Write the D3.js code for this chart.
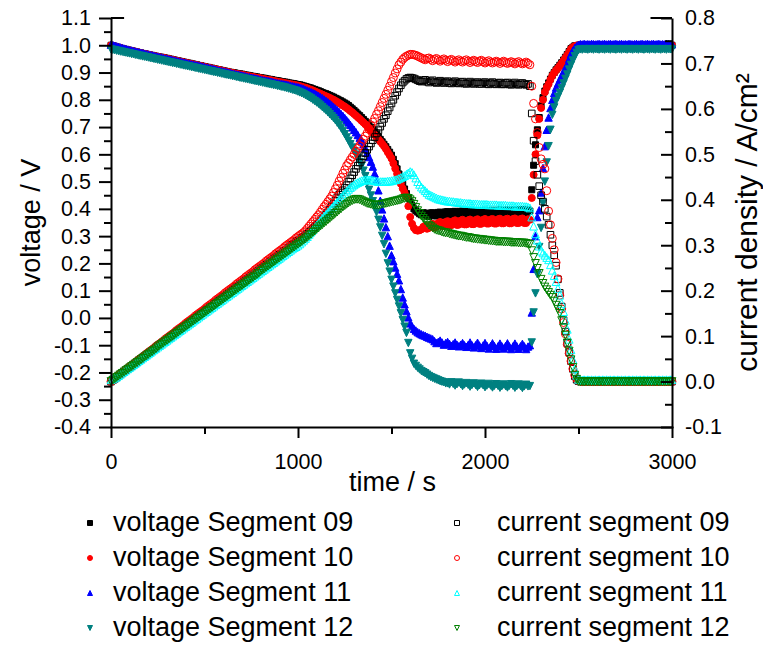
<!DOCTYPE html>
<html>
<head>
<meta charset="utf-8">
<script src="https://cdn.jsdelivr.net/npm/d3@7"></script>
<style>
  body { margin: 0; background: #fff; }
  svg { display: block; }
  text { font-family: Arial, "Liberation Sans", sans-serif; fill: #000; }
</style>
</head>
<body>
<svg id="chart" width="763" height="648"></svg>
<script>
// Sampling times (s), one reading every 10 s
const times = [
  0,10,20,30,40,50,60,70,80,90,
  100,110,120,130,140,150,160,170,180,190,
  200,210,220,230,240,250,260,270,280,290,
  300,310,320,330,340,350,360,370,380,390,
  400,410,420,430,440,450,460,470,480,490,
  500,510,520,530,540,550,560,570,580,590,
  600,610,620,630,640,650,660,670,680,690,
  700,710,720,730,740,750,760,770,780,790,
  800,810,820,830,840,850,860,870,880,890,
  900,910,920,930,940,950,960,970,980,990,
  1000,1010,1020,1030,1040,1050,1060,1070,1080,1090,
  1100,1110,1120,1130,1140,1150,1160,1170,1180,1190,
  1200,1210,1220,1230,1240,1250,1260,1270,1280,1290,
  1300,1310,1320,1330,1340,1350,1360,1370,1380,1390,
  1400,1410,1420,1430,1440,1450,1460,1470,1480,1490,
  1500,1510,1520,1530,1540,1550,1560,1570,1580,1590,
  1600,1610,1620,1630,1640,1650,1660,1670,1680,1690,
  1700,1710,1720,1730,1740,1750,1760,1770,1780,1790,
  1800,1810,1820,1830,1840,1850,1860,1870,1880,1890,
  1900,1910,1920,1930,1940,1950,1960,1970,1980,1990,
  2000,2010,2020,2030,2040,2050,2060,2070,2080,2090,
  2100,2110,2120,2130,2140,2150,2160,2170,2180,2190,
  2200,2210,2220,2230,2240,2250,2260,2270,2280,2290,
  2300,2310,2320,2330,2340,2350,2360,2370,2380,2390,
  2400,2410,2420,2430,2440,2450,2460,2470,2480,2490,
  2500,2510,2520,2530,2540,2550,2560,2570,2580,2590,
  2600,2610,2620,2630,2640,2650,2660,2670,2680,2690,
  2700,2710,2720,2730,2740,2750,2760,2770,2780,2790,
  2800,2810,2820,2830,2840,2850,2860,2870,2880,2890,
  2900,2910,2920,2930,2940,2950,2960,2970,2980,2990,
  3000
];

// Segment voltages (V)
const voltage09 = [
  1.000,0.998,0.996,0.994,0.992,0.990,0.988,0.986,0.985,0.983,
  0.981,0.980,0.978,0.976,0.975,0.973,0.972,0.970,0.969,0.967,
  0.966,0.964,0.963,0.961,0.960,0.958,0.957,0.956,0.955,0.953,
  0.952,0.950,0.949,0.947,0.946,0.944,0.943,0.941,0.940,0.938,
  0.937,0.935,0.934,0.932,0.931,0.929,0.928,0.926,0.925,0.923,
  0.922,0.920,0.919,0.917,0.916,0.914,0.913,0.911,0.910,0.908,
  0.907,0.905,0.904,0.902,0.901,0.900,0.899,0.897,0.896,0.895,
  0.894,0.892,0.891,0.890,0.889,0.887,0.886,0.885,0.884,0.882,
  0.881,0.880,0.879,0.877,0.876,0.875,0.874,0.872,0.871,0.870,
  0.869,0.867,0.866,0.865,0.864,0.862,0.861,0.860,0.859,0.857,
  0.856,0.855,0.853,0.851,0.849,0.847,0.845,0.843,0.840,0.838,
  0.835,0.833,0.830,0.827,0.824,0.822,0.819,0.816,0.813,0.810,
  0.806,0.803,0.799,0.796,0.792,0.788,0.784,0.779,0.773,0.767,
  0.761,0.755,0.748,0.742,0.735,0.728,0.721,0.714,0.706,0.698,
  0.690,0.682,0.673,0.664,0.655,0.646,0.637,0.628,0.618,0.608,
  0.597,0.582,0.566,0.547,0.528,0.509,0.490,0.473,0.456,0.440,
  0.425,0.412,0.400,0.393,0.388,0.382,0.378,0.386,0.384,0.374,
  0.372,0.385,0.386,0.375,0.374,0.387,0.388,0.377,0.376,0.389,
  0.390,0.378,0.377,0.390,0.391,0.379,0.378,0.391,0.392,0.380,
  0.379,0.392,0.393,0.381,0.380,0.393,0.394,0.382,0.381,0.394,
  0.395,0.383,0.382,0.394,0.395,0.383,0.382,0.395,0.396,0.384,
  0.383,0.395,0.396,0.384,0.383,0.396,0.397,0.385,0.384,0.396,
  0.397,0.385,0.384,0.396,0.392,0.470,0.560,0.635,0.690,0.735,
  0.778,0.808,0.832,0.848,0.862,0.876,0.890,0.900,0.910,0.918,
  0.927,0.936,0.946,0.956,0.966,0.977,0.988,0.993,0.998,0.999,
  1.000,1.001,1.000,0.999,1.000,1.001,1.000,0.999,1.000,1.001,
  1.000,0.999,1.000,1.001,1.000,0.999,1.000,1.001,1.000,0.999,
  1.000,1.001,1.000,0.999,1.000,1.001,1.000,0.999,1.000,1.001,
  1.000,0.999,1.000,1.001,1.000,0.999,1.000,1.001,1.000,0.999,
  1.000,1.001,1.000,0.999,1.000,1.001,1.000,0.999,1.000,1.001,
  1.000
];
const voltage10 = [
  1.000,0.998,0.996,0.994,0.992,0.990,0.988,0.986,0.984,0.982,
  0.981,0.979,0.978,0.976,0.975,0.973,0.971,0.970,0.968,0.967,
  0.965,0.964,0.962,0.961,0.959,0.958,0.956,0.955,0.954,0.952,
  0.951,0.949,0.948,0.946,0.945,0.943,0.942,0.940,0.939,0.937,
  0.936,0.934,0.933,0.931,0.930,0.928,0.927,0.925,0.924,0.922,
  0.921,0.919,0.918,0.916,0.915,0.913,0.912,0.910,0.909,0.907,
  0.906,0.904,0.903,0.901,0.900,0.898,0.897,0.895,0.894,0.893,
  0.892,0.890,0.889,0.887,0.886,0.885,0.884,0.882,0.881,0.880,
  0.879,0.877,0.876,0.874,0.873,0.872,0.871,0.869,0.868,0.866,
  0.865,0.864,0.863,0.861,0.860,0.859,0.857,0.856,0.855,0.853,
  0.852,0.850,0.848,0.846,0.844,0.842,0.839,0.837,0.834,0.831,
  0.828,0.825,0.822,0.819,0.816,0.813,0.810,0.807,0.803,0.800,
  0.796,0.792,0.788,0.784,0.779,0.775,0.770,0.765,0.759,0.754,
  0.748,0.742,0.736,0.730,0.723,0.717,0.710,0.703,0.695,0.687,
  0.679,0.671,0.663,0.655,0.647,0.639,0.630,0.620,0.608,0.597,
  0.585,0.567,0.548,0.529,0.510,0.492,0.475,0.460,0.445,0.410,
  0.370,0.345,0.330,0.322,0.320,0.322,0.325,0.334,0.338,0.327,
  0.330,0.342,0.345,0.331,0.334,0.348,0.352,0.336,0.338,0.352,
  0.355,0.339,0.340,0.355,0.358,0.341,0.342,0.357,0.360,0.343,
  0.343,0.358,0.361,0.344,0.344,0.359,0.362,0.345,0.345,0.360,
  0.363,0.346,0.346,0.361,0.363,0.346,0.346,0.362,0.364,0.347,
  0.347,0.362,0.364,0.347,0.347,0.363,0.365,0.348,0.348,0.363,
  0.365,0.348,0.348,0.362,0.360,0.440,0.525,0.600,0.670,0.730,
  0.770,0.800,0.828,0.845,0.858,0.874,0.889,0.899,0.908,0.916,
  0.925,0.934,0.944,0.954,0.964,0.975,0.987,0.993,0.997,0.999,
  1.000,0.999,1.000,1.001,1.000,0.999,1.000,1.001,1.000,0.999,
  1.000,1.001,1.000,0.999,1.000,1.001,1.000,0.999,1.000,1.001,
  1.000,0.999,1.000,1.001,1.000,0.999,1.000,1.001,1.000,0.999,
  1.000,1.001,1.000,0.999,1.000,1.001,1.000,0.999,1.000,1.001,
  1.000,0.999,1.000,1.001,1.000,0.999,1.000,1.001,1.000,0.999,
  1.000
];
const voltage11 = [
  1.002,1.000,0.998,0.996,0.994,0.992,0.990,0.988,0.986,0.984,
  0.982,0.981,0.979,0.977,0.976,0.974,0.972,0.971,0.969,0.967,
  0.966,0.964,0.963,0.961,0.959,0.958,0.956,0.955,0.953,0.951,
  0.950,0.948,0.947,0.945,0.944,0.942,0.941,0.939,0.938,0.936,
  0.935,0.933,0.932,0.930,0.929,0.927,0.926,0.924,0.923,0.921,
  0.920,0.918,0.917,0.915,0.913,0.912,0.910,0.908,0.907,0.905,
  0.904,0.902,0.901,0.899,0.898,0.896,0.895,0.893,0.892,0.890,
  0.889,0.887,0.886,0.884,0.883,0.881,0.880,0.878,0.877,0.875,
  0.874,0.872,0.871,0.870,0.869,0.867,0.866,0.864,0.863,0.861,
  0.860,0.858,0.857,0.856,0.855,0.853,0.852,0.850,0.849,0.847,
  0.846,0.844,0.842,0.840,0.837,0.834,0.831,0.828,0.825,0.822,
  0.818,0.814,0.810,0.806,0.801,0.796,0.791,0.786,0.780,0.774,
  0.768,0.762,0.755,0.748,0.741,0.733,0.725,0.717,0.708,0.699,
  0.690,0.681,0.671,0.661,0.651,0.637,0.622,0.606,0.590,0.573,
  0.555,0.530,0.505,0.468,0.430,0.398,0.365,0.333,0.300,0.265,
  0.230,0.208,0.185,0.162,0.138,0.106,0.075,0.050,0.025,0.002,
  -0.020,-0.030,-0.040,-0.046,-0.052,-0.056,-0.060,-0.063,-0.065,-0.069,
  -0.072,-0.075,-0.078,-0.085,-0.092,-0.088,-0.083,-0.090,-0.098,-0.092,
  -0.088,-0.095,-0.102,-0.096,-0.090,-0.098,-0.104,-0.098,-0.092,-0.100,
  -0.106,-0.099,-0.090,-0.100,-0.108,-0.100,-0.091,-0.101,-0.110,-0.101,
  -0.092,-0.102,-0.112,-0.103,-0.093,-0.103,-0.113,-0.104,-0.094,-0.104,
  -0.112,-0.103,-0.093,-0.104,-0.114,-0.104,-0.094,-0.104,-0.113,-0.104,
  -0.095,-0.104,-0.114,-0.105,-0.100,0.020,0.180,0.300,0.370,0.395,
  0.460,0.550,0.630,0.690,0.735,0.770,0.800,0.825,0.845,0.860,
  0.875,0.889,0.903,0.916,0.930,0.950,0.968,0.980,0.990,0.997,
  1.002,1.004,1.003,1.005,1.003,1.004,1.003,1.005,1.004,1.003,
  1.004,1.005,1.003,1.004,1.005,1.003,1.004,1.005,1.003,1.004,
  1.005,1.003,1.004,1.005,1.003,1.004,1.003,1.005,1.004,1.003,
  1.004,1.005,1.003,1.004,1.005,1.003,1.004,1.005,1.003,1.004,
  1.005,1.003,1.004,1.005,1.003,1.004,1.003,1.005,1.004,1.003,
  1.004
];
const voltage12 = [
  0.985,0.983,0.982,0.980,0.979,0.977,0.976,0.974,0.973,0.971,
  0.970,0.968,0.967,0.965,0.964,0.962,0.961,0.959,0.958,0.956,
  0.955,0.953,0.952,0.950,0.949,0.947,0.946,0.944,0.943,0.941,
  0.940,0.938,0.937,0.935,0.934,0.932,0.931,0.929,0.928,0.926,
  0.925,0.923,0.922,0.920,0.919,0.917,0.916,0.914,0.913,0.911,
  0.910,0.908,0.907,0.905,0.904,0.902,0.901,0.899,0.898,0.896,
  0.895,0.893,0.892,0.890,0.889,0.887,0.886,0.884,0.883,0.881,
  0.880,0.878,0.877,0.875,0.874,0.872,0.871,0.869,0.868,0.866,
  0.865,0.863,0.862,0.860,0.859,0.857,0.856,0.854,0.853,0.851,
  0.850,0.848,0.847,0.845,0.843,0.841,0.839,0.837,0.835,0.833,
  0.830,0.827,0.824,0.821,0.817,0.813,0.809,0.805,0.800,0.795,
  0.790,0.785,0.779,0.773,0.767,0.761,0.754,0.747,0.740,0.733,
  0.725,0.716,0.707,0.697,0.686,0.674,0.662,0.650,0.637,0.625,
  0.612,0.599,0.586,0.572,0.558,0.540,0.520,0.495,0.470,0.449,
  0.428,0.408,0.388,0.360,0.332,0.301,0.270,0.235,0.200,0.170,
  0.140,0.115,0.090,0.066,0.042,0.017,-0.008,-0.032,-0.055,-0.092,
  -0.130,-0.150,-0.168,-0.176,-0.183,-0.189,-0.195,-0.199,-0.203,-0.208,
  -0.213,-0.217,-0.220,-0.223,-0.226,-0.229,-0.232,-0.234,-0.236,-0.240,
  -0.240,-0.244,-0.236,-0.242,-0.248,-0.243,-0.237,-0.243,-0.250,-0.244,
  -0.239,-0.245,-0.252,-0.246,-0.240,-0.246,-0.253,-0.247,-0.241,-0.247,
  -0.254,-0.248,-0.242,-0.248,-0.255,-0.249,-0.243,-0.249,-0.256,-0.250,
  -0.244,-0.250,-0.255,-0.249,-0.243,-0.249,-0.256,-0.250,-0.244,-0.250,
  -0.257,-0.251,-0.245,-0.251,-0.250,-0.090,0.020,0.090,0.160,0.260,
  0.330,0.420,0.500,0.570,0.630,0.690,0.745,0.772,0.795,0.811,
  0.826,0.843,0.860,0.877,0.893,0.911,0.928,0.944,0.960,0.972,
  0.982,0.985,0.984,0.986,0.985,0.984,0.986,0.985,0.984,0.986,
  0.985,0.984,0.986,0.985,0.984,0.986,0.985,0.984,0.986,0.985,
  0.984,0.986,0.985,0.984,0.986,0.985,0.984,0.986,0.985,0.984,
  0.986,0.985,0.984,0.986,0.985,0.984,0.986,0.985,0.984,0.986,
  0.985,0.984,0.986,0.985,0.984,0.986,0.985,0.984,0.986,0.985,
  0.985
];

// Segment current densities (A/cm²)
const current09 = [
  0.000,0.003,0.006,0.009,0.012,0.016,0.019,0.022,0.025,0.028,
  0.031,0.034,0.037,0.040,0.043,0.047,0.050,0.053,0.056,0.059,
  0.062,0.065,0.068,0.071,0.074,0.078,0.081,0.084,0.087,0.090,
  0.093,0.096,0.099,0.102,0.105,0.109,0.112,0.115,0.118,0.121,
  0.124,0.127,0.130,0.133,0.136,0.140,0.143,0.146,0.149,0.152,
  0.155,0.158,0.161,0.164,0.167,0.171,0.174,0.177,0.180,0.183,
  0.186,0.189,0.192,0.195,0.198,0.202,0.205,0.208,0.211,0.214,
  0.217,0.220,0.223,0.226,0.229,0.233,0.236,0.239,0.242,0.245,
  0.248,0.251,0.254,0.257,0.260,0.264,0.267,0.270,0.273,0.276,
  0.279,0.282,0.285,0.288,0.291,0.295,0.298,0.301,0.304,0.307,
  0.310,0.313,0.316,0.319,0.322,0.325,0.329,0.332,0.336,0.340,
  0.344,0.348,0.353,0.357,0.362,0.367,0.372,0.378,0.385,0.391,
  0.398,0.405,0.411,0.416,0.421,0.426,0.432,0.440,0.447,0.454,
  0.461,0.468,0.475,0.482,0.489,0.496,0.503,0.510,0.517,0.524,
  0.531,0.538,0.546,0.553,0.561,0.569,0.578,0.586,0.595,0.603,
  0.612,0.620,0.629,0.637,0.645,0.652,0.658,0.662,0.666,0.668,
  0.669,0.668,0.667,0.665,0.663,0.661,0.660,0.663,0.664,0.660,
  0.658,0.661,0.663,0.659,0.657,0.660,0.662,0.658,0.657,0.660,
  0.661,0.657,0.656,0.659,0.661,0.657,0.656,0.659,0.660,0.656,
  0.655,0.658,0.660,0.656,0.655,0.658,0.659,0.655,0.655,0.658,
  0.659,0.655,0.654,0.657,0.659,0.655,0.654,0.657,0.658,0.654,
  0.654,0.657,0.658,0.654,0.653,0.656,0.658,0.654,0.653,0.656,
  0.657,0.654,0.653,0.655,0.650,0.590,0.530,0.485,0.455,0.430,
  0.410,0.396,0.380,0.363,0.345,0.323,0.300,0.278,0.255,0.225,
  0.195,0.165,0.135,0.110,0.085,0.065,0.045,0.028,0.012,0.004,
  0.001,0.000,0.001,0.000,0.001,0.000,0.001,0.000,0.001,0.000,
  0.001,0.000,0.001,0.000,0.001,0.000,0.001,0.000,0.001,0.000,
  0.001,0.000,0.001,0.000,0.001,0.000,0.001,0.000,0.001,0.000,
  0.001,0.000,0.001,0.000,0.001,0.000,0.001,0.000,0.001,0.000,
  0.001,0.000,0.001,0.000,0.001,0.000,0.001,0.000,0.001,0.000,
  0.000
];
const current10 = [
  0.000,0.003,0.006,0.010,0.013,0.016,0.019,0.022,0.026,0.029,
  0.032,0.035,0.038,0.041,0.045,0.048,0.051,0.054,0.057,0.061,
  0.064,0.067,0.070,0.073,0.077,0.080,0.083,0.086,0.089,0.093,
  0.096,0.099,0.102,0.105,0.108,0.112,0.115,0.118,0.121,0.124,
  0.128,0.131,0.134,0.137,0.140,0.144,0.147,0.150,0.153,0.156,
  0.159,0.163,0.166,0.169,0.172,0.175,0.179,0.182,0.185,0.188,
  0.191,0.195,0.198,0.201,0.204,0.207,0.210,0.214,0.217,0.220,
  0.223,0.226,0.230,0.233,0.236,0.239,0.242,0.246,0.249,0.252,
  0.255,0.258,0.261,0.265,0.268,0.271,0.274,0.277,0.281,0.284,
  0.287,0.290,0.293,0.297,0.300,0.303,0.306,0.309,0.312,0.316,
  0.319,0.322,0.325,0.328,0.332,0.337,0.342,0.347,0.352,0.357,
  0.362,0.367,0.373,0.379,0.385,0.390,0.396,0.402,0.408,0.416,
  0.424,0.432,0.441,0.449,0.458,0.466,0.475,0.481,0.488,0.494,
  0.500,0.507,0.513,0.519,0.526,0.533,0.540,0.547,0.555,0.563,
  0.571,0.579,0.588,0.596,0.605,0.614,0.623,0.632,0.641,0.650,
  0.660,0.669,0.679,0.688,0.697,0.703,0.709,0.713,0.716,0.718,
  0.720,0.720,0.719,0.718,0.716,0.714,0.712,0.710,0.708,0.711,
  0.712,0.709,0.706,0.709,0.711,0.708,0.705,0.708,0.710,0.707,
  0.704,0.707,0.709,0.706,0.703,0.706,0.708,0.705,0.703,0.706,
  0.708,0.705,0.702,0.705,0.707,0.704,0.702,0.705,0.707,0.704,
  0.701,0.704,0.706,0.703,0.701,0.703,0.705,0.703,0.700,0.703,
  0.705,0.702,0.700,0.702,0.704,0.702,0.699,0.702,0.704,0.701,
  0.699,0.701,0.703,0.700,0.697,0.650,0.612,0.578,0.548,0.515,
  0.490,0.478,0.468,0.420,0.375,0.345,0.315,0.290,0.262,0.226,
  0.190,0.160,0.130,0.105,0.082,0.062,0.045,0.028,0.014,0.006,
  0.002,0.001,0.000,0.001,0.000,0.001,0.000,0.001,0.000,0.001,
  0.000,0.001,0.000,0.001,0.000,0.001,0.000,0.001,0.000,0.001,
  0.000,0.001,0.000,0.001,0.000,0.001,0.000,0.001,0.000,0.001,
  0.000,0.001,0.000,0.001,0.000,0.001,0.000,0.001,0.000,0.001,
  0.000,0.001,0.000,0.001,0.000,0.001,0.000,0.001,0.000,0.001,
  0.000
];
const current11 = [
  0.004,0.006,0.008,0.010,0.013,0.016,0.019,0.022,0.025,0.028,
  0.031,0.034,0.037,0.040,0.043,0.046,0.049,0.052,0.055,0.058,
  0.061,0.064,0.067,0.070,0.073,0.076,0.079,0.082,0.085,0.088,
  0.091,0.094,0.097,0.100,0.103,0.106,0.109,0.112,0.115,0.118,
  0.121,0.124,0.127,0.130,0.133,0.136,0.139,0.142,0.145,0.148,
  0.151,0.154,0.157,0.160,0.163,0.166,0.169,0.172,0.175,0.178,
  0.181,0.184,0.187,0.190,0.193,0.196,0.199,0.202,0.205,0.208,
  0.211,0.214,0.217,0.220,0.223,0.226,0.229,0.232,0.235,0.238,
  0.241,0.244,0.247,0.250,0.253,0.256,0.259,0.262,0.265,0.268,
  0.271,0.274,0.277,0.280,0.283,0.286,0.289,0.292,0.295,0.297,
  0.300,0.303,0.307,0.311,0.315,0.319,0.324,0.329,0.334,0.339,
  0.344,0.349,0.354,0.359,0.364,0.368,0.373,0.377,0.382,0.386,
  0.391,0.395,0.400,0.405,0.410,0.414,0.419,0.423,0.427,0.430,
  0.433,0.436,0.438,0.440,0.442,0.443,0.444,0.444,0.444,0.444,
  0.443,0.442,0.441,0.440,0.440,0.440,0.440,0.440,0.441,0.441,
  0.442,0.443,0.444,0.445,0.447,0.449,0.451,0.453,0.456,0.459,
  0.462,0.460,0.455,0.448,0.440,0.434,0.428,0.424,0.420,0.416,
  0.412,0.410,0.408,0.406,0.404,0.402,0.401,0.400,0.399,0.398,
  0.397,0.397,0.396,0.396,0.395,0.395,0.394,0.394,0.393,0.393,
  0.392,0.392,0.392,0.391,0.391,0.391,0.391,0.390,0.390,0.390,
  0.390,0.390,0.389,0.389,0.389,0.389,0.389,0.388,0.388,0.388,
  0.388,0.388,0.387,0.387,0.387,0.387,0.386,0.386,0.386,0.386,
  0.386,0.385,0.385,0.384,0.382,0.362,0.342,0.325,0.311,0.298,
  0.287,0.283,0.278,0.273,0.268,0.257,0.245,0.233,0.220,0.205,
  0.190,0.172,0.154,0.135,0.115,0.093,0.070,0.049,0.028,0.014,
  0.005,0.004,0.003,0.004,0.003,0.004,0.003,0.004,0.003,0.004,
  0.003,0.004,0.003,0.004,0.003,0.004,0.003,0.004,0.003,0.004,
  0.003,0.004,0.003,0.004,0.003,0.004,0.003,0.004,0.003,0.004,
  0.003,0.004,0.003,0.004,0.003,0.004,0.003,0.004,0.003,0.004,
  0.003,0.004,0.003,0.004,0.003,0.004,0.003,0.004,0.003,0.004,
  0.004
];
const current12 = [
  0.000,0.003,0.006,0.009,0.012,0.015,0.018,0.021,0.024,0.027,
  0.030,0.033,0.036,0.039,0.042,0.045,0.048,0.051,0.054,0.057,
  0.060,0.063,0.066,0.069,0.072,0.076,0.079,0.082,0.085,0.088,
  0.091,0.094,0.097,0.100,0.103,0.106,0.109,0.112,0.115,0.118,
  0.121,0.124,0.127,0.130,0.133,0.136,0.139,0.142,0.145,0.148,
  0.151,0.154,0.157,0.160,0.163,0.166,0.169,0.172,0.175,0.178,
  0.181,0.184,0.187,0.190,0.193,0.196,0.199,0.202,0.205,0.208,
  0.211,0.214,0.217,0.220,0.223,0.226,0.229,0.232,0.235,0.238,
  0.242,0.245,0.248,0.251,0.254,0.257,0.260,0.263,0.266,0.269,
  0.272,0.275,0.278,0.281,0.284,0.287,0.290,0.293,0.296,0.299,
  0.302,0.305,0.308,0.311,0.314,0.317,0.321,0.324,0.328,0.331,
  0.335,0.338,0.342,0.345,0.349,0.352,0.356,0.359,0.363,0.366,
  0.370,0.373,0.377,0.380,0.384,0.387,0.390,0.393,0.396,0.398,
  0.400,0.401,0.401,0.400,0.398,0.396,0.394,0.392,0.391,0.390,
  0.389,0.388,0.388,0.388,0.389,0.390,0.391,0.392,0.393,0.394,
  0.395,0.396,0.397,0.398,0.399,0.400,0.402,0.403,0.404,0.403,
  0.400,0.396,0.390,0.383,0.376,0.370,0.364,0.359,0.354,0.349,
  0.344,0.341,0.338,0.335,0.333,0.332,0.331,0.329,0.328,0.327,
  0.327,0.325,0.324,0.323,0.322,0.321,0.320,0.320,0.319,0.318,
  0.317,0.317,0.316,0.315,0.314,0.314,0.313,0.313,0.312,0.312,
  0.311,0.311,0.310,0.310,0.309,0.309,0.308,0.308,0.308,0.308,
  0.307,0.307,0.307,0.307,0.306,0.306,0.306,0.306,0.305,0.305,
  0.305,0.305,0.304,0.303,0.302,0.288,0.273,0.260,0.249,0.238,
  0.225,0.216,0.208,0.202,0.196,0.190,0.185,0.177,0.168,0.159,
  0.150,0.134,0.118,0.102,0.085,0.067,0.048,0.031,0.014,0.005,
  0.000,-0.001,0.000,-0.001,0.000,-0.001,0.000,-0.001,0.000,-0.001,
  0.000,-0.001,0.000,-0.001,0.000,-0.001,0.000,-0.001,0.000,-0.001,
  0.000,-0.001,0.000,-0.001,0.000,-0.001,0.000,-0.001,0.000,-0.001,
  0.000,-0.001,0.000,-0.001,0.000,-0.001,0.000,-0.001,0.000,-0.001,
  0.000,-0.001,0.000,-0.001,0.000,-0.001,0.000,-0.001,0.000,-0.001,
  0.000
];

// Axis ticks
const timeTicks = [0, 1000, 2000, 3000];
const timeMinorTicks = [500, 1500, 2500];
const voltageTicks = [-0.4,-0.3,-0.2,-0.1,0.0,0.1,0.2,0.3,0.4,0.5,0.6,0.7,0.8,0.9,1.0,1.1];
const voltageMinorTicks = [-0.35,-0.25,-0.15,-0.05,0.05,0.15,0.25,0.35,0.45,0.55,0.65,0.75,0.85,0.95,1.05];
const currentTicks = [-0.1,0.0,0.1,0.2,0.3,0.4,0.5,0.6,0.7,0.8];
const currentMinorTicks = [-0.05,0.05,0.15,0.25,0.35,0.45,0.55,0.65,0.75];

// Series styling and legend text
const voltageSeries = [
  { label: "voltage Segment 09", values: voltage09, color: "#000000", shape: "square" },
  { label: "voltage Segment 10", values: voltage10, color: "#FF0000", shape: "circle" },
  { label: "voltage Segment 11", values: voltage11, color: "#0000FF", shape: "up" },
  { label: "voltage Segment 12", values: voltage12, color: "#008080", shape: "down" }
];
const currentSeries = [
  { label: "current segment 09", values: current09, color: "#000000", shape: "square" },
  { label: "current segment 10", values: current10, color: "#FF0000", shape: "circle" },
  { label: "current segment 11", values: current11, color: "#00FFFF", shape: "up" },
  { label: "current segment 12", values: current12, color: "#008000", shape: "down" }
];

const svg = d3.select("#chart");
const frame = { left: 111, right: 672, top: 18, bottom: 427 };

const x = d3.scaleLinear().domain([0, 3000]).range([frame.left, frame.right]);
const yV = d3.scaleLinear().domain([-0.4, 1.1]).range([frame.bottom, frame.top]);
const yI = d3.scaleLinear().domain([-0.1, 0.8]).range([frame.bottom, frame.top]);

const fmt1 = d => d.toFixed(1);

// Marker path builders (centred on 0,0)
function markerPath(shape, s) {
  const h = s / 2;
  switch (shape) {
    case "square": return `M${-h},${-h}H${h}V${h}H${-h}Z`;
    case "circle": return `M${h},0A${h},${h} 0 1,1 ${-h},0A${h},${h} 0 1,1 ${h},0Z`;
    case "up":     return `M0,${-h}L${h},${h}L${-h},${h}Z`;
    case "down":   return `M0,${h}L${h},${-h}L${-h},${-h}Z`;
  }
}

function drawSeries(series, yScale, filled) {
  series.forEach(s => {
    const n = Math.min(times.length, s.values.length);
    const pts = d3.range(n).map(i => [times[i], s.values[i]]);
    const size = filled
      ? (s.shape === "circle" ? 7 : s.shape === "square" ? 6 : 7.4)
      : (s.shape === "circle" ? 8 : s.shape === "square" ? 6.6 : 7.8);
    const d = markerPath(s.shape, size);
    svg.append("g")
      .selectAll("path")
      .data(pts)
      .join("path")
      .attr("d", d)
      .attr("transform", p => `translate(${x(p[0])},${yScale(p[1])})`)
      .attr("fill", filled ? s.color : "none")
      .attr("stroke", s.color)
      .attr("stroke-width", 1);
  });
}

drawSeries(voltageSeries, yV, true);
drawSeries(currentSeries, yI, false);

// Axes
function styleAxis(g) {
  g.selectAll("line, path").attr("stroke", "#000").attr("stroke-width", 2);
  g.selectAll("text").style("font-size", "21.5px").attr("fill", "#000");
}

// bottom
svg.append("g")
  .attr("transform", `translate(0,${frame.bottom})`)
  .call(d3.axisBottom(x).tickValues(timeMinorTicks).tickSize(7).tickFormat("").tickSizeOuter(0))
  .call(g => g.select(".domain").remove())
  .call(styleAxis);
svg.append("g")
  .attr("transform", `translate(0,${frame.bottom})`)
  .call(d3.axisBottom(x).tickValues(timeTicks).tickSize(11).tickPadding(16).tickFormat(d3.format("d")).tickSizeOuter(0))
  .call(styleAxis)
  .call(g => g.select(".domain").attr("stroke-linecap", "square"));

// left
svg.append("g")
  .attr("transform", `translate(${frame.left},0)`)
  .call(d3.axisLeft(yV).tickValues(voltageMinorTicks).tickSize(7).tickFormat("").tickSizeOuter(0))
  .call(g => g.select(".domain").remove())
  .call(styleAxis);
svg.append("g")
  .attr("transform", `translate(${frame.left},0)`)
  .call(d3.axisLeft(yV).tickValues(voltageTicks).tickSize(12).tickPadding(8).tickFormat(fmt1).tickSizeOuter(0))
  .call(styleAxis);

// right (ticks point into the plot)
svg.append("g")
  .attr("transform", `translate(${frame.right},0)`)
  .call(d3.axisRight(yI).tickValues(currentMinorTicks).tickSize(-7).tickFormat("").tickSizeOuter(0))
  .call(g => g.select(".domain").remove())
  .call(styleAxis);
svg.append("g")
  .attr("transform", `translate(${frame.right},0)`)
  .call(d3.axisRight(yI).tickValues(currentTicks).tickSizeInner(-11).tickSizeOuter(0).tickPadding(13).tickFormat(fmt1))
  .call(styleAxis);

// Short top-corner stubs of the frame
svg.append("g")
  .attr("stroke", "#000")
  .attr("stroke-width", 2)
  .selectAll("line")
  .data([[0, 70], [2885, 3000]])
  .join("line")
  .attr("x1", d => x(d[0]))
  .attr("x2", d => x(d[1]))
  .attr("y1", yV(1.1))
  .attr("y2", yV(1.1));

// Axis titles
svg.append("text")
  .attr("x", (frame.left + frame.right) / 2 + 1)
  .attr("y", 491)
  .attr("text-anchor", "middle")
  .style("font-size", "27px")
  .text("time / s");

svg.append("text")
  .attr("transform", `translate(40,${(frame.top + frame.bottom) / 2}) rotate(-90)`)
  .attr("text-anchor", "middle")
  .style("font-size", "27px")
  .text("voltage / V");

svg.append("text")
  .attr("transform", `translate(757,${(frame.top + frame.bottom) / 2}) rotate(-90)`)
  .attr("text-anchor", "middle")
  .style("font-size", "30px")
  .text("current density / A/cm²");

// Legend
const rowY = [522, 557, 592, 627];
function drawLegend(series, markerX, textX, filled) {
  series.forEach((s, i) => {
    svg.append("path")
      .attr("d", markerPath(s.shape, 5))
      .attr("transform", `translate(${markerX},${rowY[i] + 1})`)
      .attr("fill", filled ? s.color : "none")
      .attr("stroke", s.color)
      .attr("stroke-width", 1);
    svg.append("text")
      .attr("x", textX)
      .attr("y", rowY[i] + 9)
      .style("font-size", "27px")
      .text(s.label);
  });
}
drawLegend(voltageSeries, 90, 113, true);
drawLegend(currentSeries, 457, 497, false);
</script>
</body>
</html>
